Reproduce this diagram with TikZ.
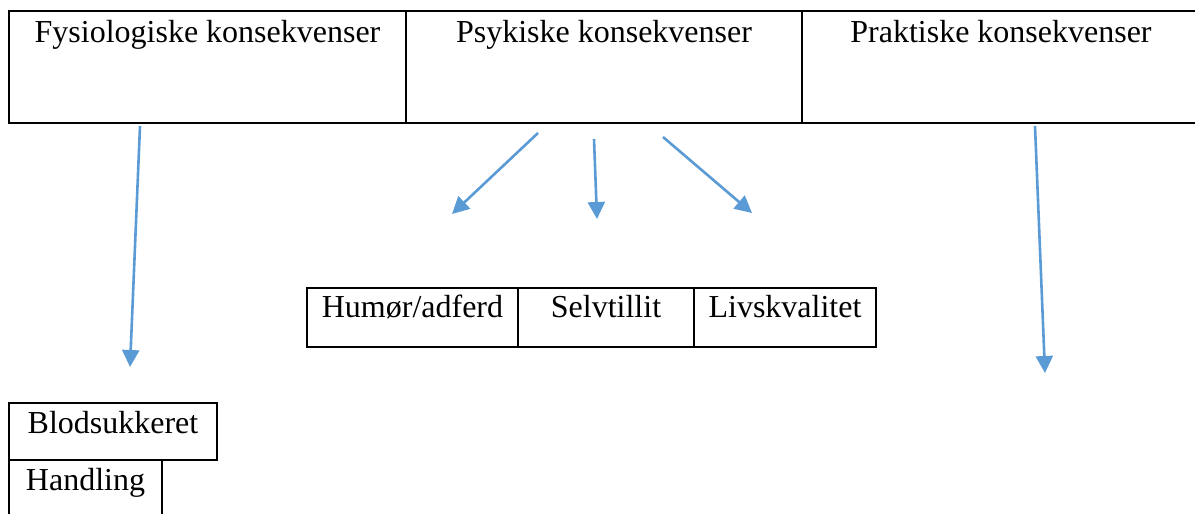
\documentclass[tikz,border=0pt]{standalone}
\usepackage{fontspec}
\setmainfont{Liberation Serif}
\usetikzlibrary{arrows.meta}
\definecolor{arrowblue}{RGB}{91,155,213}

\begin{document}
\begin{tikzpicture}[x=1pt,y=-1pt,
    every node/.style={font=\fontsize{32}{38}\selectfont},
    cell/.style={draw, line width=2pt, inner sep=0pt},
    link/.style={arrowblue, line width=2.6pt, -{Triangle[length=17pt,width=17pt]}}]
                \useasboundingbox (0,0) rectangle (1195,514);
                % top row
                \node[cell, minimum width=397, minimum height=112, text height=31, text depth=81] (fys) at (207.5,67) {Fysiologiske konsekvenser};
                \node[cell, minimum width=396, minimum height=112, text height=31, text depth=81] (psy) at (604,67) {Psykiske konsekvenser};
                \node[cell, minimum width=398, minimum height=112, text height=31, text depth=81] (pra) at (1001,67) {Praktiske konsekvenser};
                % middle row
                \node[cell, minimum width=211, minimum height=59, text height=29, text depth=30] (hum) at (412.5,317.5) {Humør/adferd};
                \node[cell, minimum width=176, minimum height=59, text height=29, text depth=30] (sel) at (606,317.5) {Selvtillit};
                \node[cell, minimum width=182, minimum height=59, text height=29, text depth=30] (liv) at (785,317.5) {Livskvalitet};
                % bottom left
                \node[cell, minimum width=208, minimum height=57, text height=30, text depth=27] (blod) at (113,431.5) {Blodsukkeret};
                \node[cell, minimum width=153, minimum height=75, text height=30, text depth=45] (han) at (85.5,497.5) {Handling};
                % arrow ends
                \coordinate (fysA) at (140,126);
                \coordinate (fysB) at (130,367);
                \coordinate (psyA) at (538,133);
                \coordinate (psyB) at (452,214);
                \coordinate (psyC) at (594,139);
                \coordinate (psyD) at (597,219);
                \coordinate (psyE) at (663,137);
                \coordinate (psyF) at (752,213);
                \coordinate (praA) at (1035,126);
                \coordinate (praB) at (1045,373);
                \draw[link] (fysA) -- (fysB);
                \draw[link] (psyA) -- (psyB);
                \draw[link] (psyC) -- (psyD);
                \draw[link] (psyE) -- (psyF);
                \draw[link] (praA) -- (praB);
            \end{tikzpicture}
\end{document}
